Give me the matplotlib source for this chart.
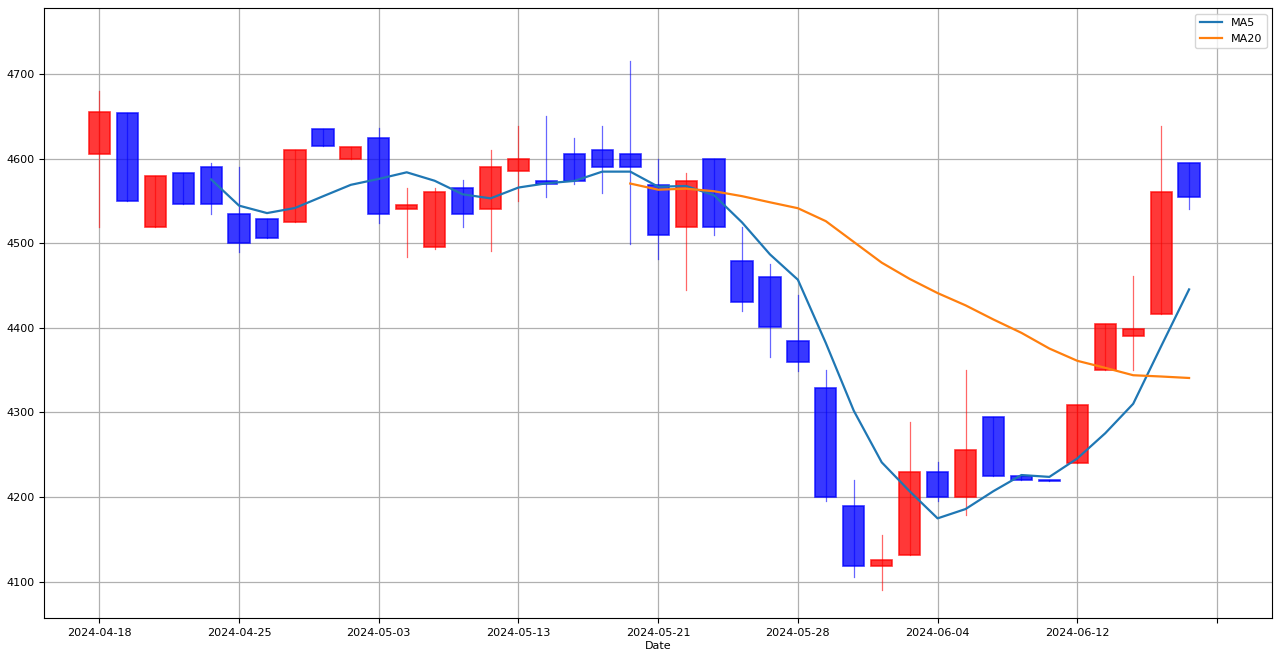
import numpy as np
import matplotlib
matplotlib.use('Agg')
import matplotlib.pyplot as plt
from matplotlib.patches import Rectangle

# daily OHLC
dates = ['2024-04-18', '2024-04-19', '2024-04-22', '2024-04-23', '2024-04-24',
         '2024-04-25', '2024-04-26', '2024-04-29', '2024-04-30', '2024-05-02',
         '2024-05-03', '2024-05-06', '2024-05-07', '2024-05-08', '2024-05-09',
         '2024-05-13', '2024-05-14', '2024-05-15', '2024-05-16', '2024-05-20',
         '2024-05-21', '2024-05-22', '2024-05-23', '2024-05-24', '2024-05-27',
         '2024-05-28', '2024-05-29', '2024-05-30', '2024-05-31', '2024-06-03',
         '2024-06-04', '2024-06-05', '2024-06-06', '2024-06-07', '2024-06-11',
         '2024-06-12', '2024-06-13', '2024-06-14', '2024-06-17', '2024-06-18']
opens = [4605, 4654, 4519, 4583, 4590, 4534, 4529, 4525, 4635, 4600,
         4624, 4540, 4495, 4565, 4540, 4585, 4574, 4605, 4610, 4605,
         4569, 4519, 4599, 4479, 4460, 4385, 4329, 4189, 4119, 4131,
         4230, 4200, 4294, 4225, 4220, 4240, 4350, 4390, 4416, 4595]
highs = [4680, 4654, 4580, 4583, 4595, 4590, 4529, 4610, 4635, 4614,
         4636, 4565, 4565, 4575, 4610, 4639, 4650, 4624, 4639, 4715,
         4599, 4583, 4599, 4519, 4476, 4439, 4350, 4220, 4155, 4289,
         4241, 4350, 4294, 4225, 4220, 4309, 4404, 4461, 4639, 4595]
lows = [4519, 4550, 4519, 4546, 4535, 4490, 4506, 4525, 4615, 4600,
        4524, 4484, 4493, 4519, 4491, 4550, 4555, 4570, 4559, 4499,
        4481, 4445, 4510, 4420, 4365, 4349, 4195, 4105, 4090, 4131,
        4195, 4179, 4225, 4220, 4219, 4240, 4350, 4350, 4416, 4540]
closes = [4655, 4550, 4580, 4546, 4546, 4500, 4506, 4610, 4615, 4614,
          4535, 4545, 4560, 4535, 4590, 4599, 4570, 4574, 4590, 4590,
          4510, 4574, 4519, 4430, 4401, 4360, 4200, 4119, 4125, 4230,
          4200, 4255, 4225, 4220, 4219, 4309, 4404, 4399, 4560, 4555]

closes_arr = np.array(closes, dtype=float)
x = np.arange(len(dates))


def moving_average(vals, n):
    out = np.full(len(vals), np.nan)
    for i in range(n - 1, len(vals)):
        out[i] = vals[i - n + 1:i + 1].mean()
    return out


ma5 = moving_average(closes_arr, 5)
ma20 = moving_average(closes_arr, 20)

fig = plt.figure(figsize=(12.8, 6.6), dpi=100)
ax = fig.add_axes([0.0344, 0.0636, 0.9594, 0.9243])

width = 0.76
for i in x:
    o, h, l, c = opens[i], highs[i], lows[i], closes[i]
    col = 'red' if c >= o else 'blue'
    bottom = min(o, c)
    height = abs(c - o)
    ax.add_patch(Rectangle((i - width / 2, bottom), width, height,
                           facecolor=col, edgecolor=col, alpha=0.78, lw=1.2, zorder=3))
    ax.plot([i, i], [l, h], color=col, lw=0.9, alpha=0.6, zorder=4)

ax.plot(x, ma5, color='#1f77b4', lw=1.6, label='MA5', zorder=5)
ax.plot(x, ma20, color='#ff7f0e', lw=1.6, label='MA20', zorder=5)

tick_pos = list(range(0, len(dates) + 1, 5))
tick_lab = [dates[i] if i < len(dates) else '' for i in tick_pos]
ax.set_xticks(tick_pos)
ax.set_xticklabels(tick_lab, fontsize=8)
ax.tick_params(axis='y', labelsize=8)
ax.set_yticks([4100, 4200, 4300, 4400, 4500, 4600, 4700])
ax.set_xlim(-1.98, 41.97)
ax.set_ylim(4057, 4778)
ax.set_xlabel('Date', fontsize=8, labelpad=2)
ax.grid(True, color='#b0b0b0', lw=0.9)
ax.set_axisbelow(True)
ax.legend(loc='upper right', fontsize=8)

fig.savefig('out.png', dpi=100)
